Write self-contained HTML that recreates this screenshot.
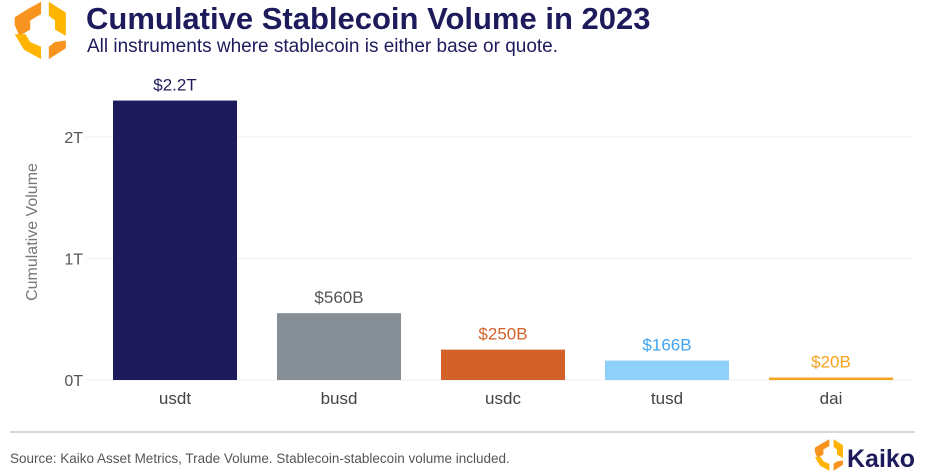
<!DOCTYPE html>
<html><head><meta charset="utf-8"><style>
body{margin:0;background:#fff;font-family:"Liberation Sans",sans-serif;}
#wrap{position:relative;width:938px;height:476px;overflow:hidden;}
</style></head><body>
<div id="wrap">
<svg width="938" height="476">
 <g transform="translate(-7,-6) scale(1.55)">
  <polygon points="22,10 31,5 31,13 24,17 24,23 17,27 14,20 14,15" fill="#f7931e"/>
  <polygon points="36,5 47,12 47,27 40,23 40,17 36,14" fill="#ffb400"/>
  <polygon points="47,30 47,35 36,42 36,34 40,31" fill="#f7931e"/>
  <polygon points="31,34 31,42 20,36 14,26 21,26 24,31" fill="#ffb400"/>
 </g>
 <text x="86" y="29" font-size="31" font-weight="bold" fill="#1e1b5c">Cumulative Stablecoin Volume in 2023</text>
 <text x="87" y="52" font-size="19" fill="#1e1b5c">All instruments where stablecoin is either base or quote.</text>
 <g id="grid"></g>
 <g id="bars"></g>
 <text transform="translate(37,232) rotate(-90)" text-anchor="middle" font-size="16" fill="#777">Cumulative Volume</text>
 <line x1="10" y1="432" x2="915" y2="432" stroke="#ccc" stroke-width="1.5"/>
 <text x="10" y="463" font-size="13.5" fill="#555">Source: Kaiko Asset Metrics, Trade Volume. Stablecoin-stablecoin volume included.</text>
 <g transform="translate(803,435) scale(0.85)">
  <polygon points="22,10 31,5 31,13 24,17 24,23 17,27 14,20 14,15" fill="#f7931e"/>
  <polygon points="36,5 47,12 47,27 40,23 40,17 36,14" fill="#ffb400"/>
  <polygon points="47,30 47,35 36,42 36,34 40,31" fill="#f7931e"/>
  <polygon points="31,34 31,42 20,36 14,26 21,26 24,31" fill="#ffb400"/>
 </g>
 <text x="847" y="467" font-size="25" font-weight="bold" fill="#1e1b5c">Kaiko</text>
</svg>
</div>
<script>
const categories=["usdt","busd","usdc","tusd","dai"];
const values=[2.3,0.55,0.25,0.16,0.02];
const valueLabels=["$2.2T","$560B","$250B","$166B","$20B"];
const colors=["#1e1b5c","#868e96","#d2622a","#8fd0fb","#f7a21b"];
const labelColors=["#1e1b5c","#555","#d2622a","#3fa3f0","#f7a21b"];
const yTicks=[0,1,2];
const yTickLabels=["0T","1T","2T"];
const NS="http://www.w3.org/2000/svg";
const x0=93,x1=913,y0=380,pxPerT=121.5;
const y=v=>y0-v*pxPerT;
const band=(x1-x0)/categories.length;
function mk(tag,attrs,parent,text){const e=document.createElementNS(NS,tag);for(const k in attrs)e.setAttribute(k,attrs[k]);if(text!==undefined)e.textContent=text;parent.appendChild(e);return e;}
const grid=document.getElementById('grid'),bars=document.getElementById('bars');
yTicks.forEach((t,i)=>{
 const l=mk('line',{x1:86,x2:x1,y1:y(t),y2:y(t),stroke:'#eee'},grid);
 
 
 const tx=mk('text',{x:83,y:y(t)+6,'text-anchor':'end','font-size':16,fill:'#555'},grid,yTickLabels[i]);
 
 
});
categories.forEach((c,i)=>{
 const bx=x0+band*i+20,bw=band-40;
 const r=mk('rect',{x:bx,y:y(values[i]),width:bw,height:values[i]*pxPerT,fill:colors[i]},bars);
 
 
 const v=mk('text',{x:bx+bw/2,y:y(values[i])-10,'text-anchor':'middle','font-size':17,fill:labelColors[i]},bars,valueLabels[i]);
 
 
 const cl=mk('text',{x:bx+bw/2,y:y0+24,'text-anchor':'middle','font-size':17,fill:'#444'},bars,c);
 
 
});
</script>
</body></html>
